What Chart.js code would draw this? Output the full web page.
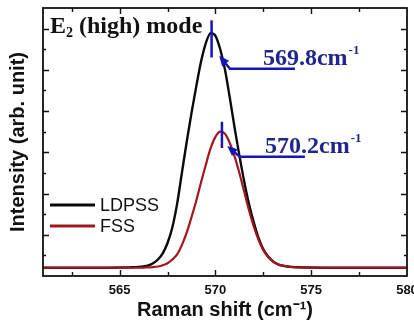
<!DOCTYPE html>
<html><head><meta charset="utf-8">
<script src="https://cdn.jsdelivr.net/npm/chart.js@4/dist/chart.umd.min.js"></script>
<style>html,body{margin:0;padding:0;background:#fff}#wrap{width:414px;height:326px}</style>
</head><body><div id="wrap"><canvas id="c" width="414" height="326"></canvas></div>
<script>
// ---- data ----
const ramanShift = [561,562,563,564,565,565.5,566,566.25,566.5,566.75,567,567.25,567.5,567.75,568,568.25,568.5,568.75,569,569.25,569.5,569.75,570,570.25,570.5,570.75,571,571.25,571.5,571.75,572,572.25,572.5,572.75,573,573.25,573.5,574,574.5,575,576,577,578,579,580];
const ldpss = [0.4,0.4,0.4,0.4,0.41,0.42,0.44,0.47,0.52,0.62,0.8,1.1,1.6,2.35,3.5,5.0,6.5,7.9,9.2,10.4,11.3,11.78,11.65,11.0,10.0,8.65,7.2,5.85,4.6,3.5,2.6,1.85,1.3,0.95,0.72,0.58,0.5,0.44,0.42,0.41,0.4,0.4,0.4,0.4,0.4];
const fss = [0.4,0.4,0.4,0.4,0.4,0.4,0.4,0.41,0.42,0.43,0.46,0.52,0.62,0.8,1.05,1.5,2.1,2.85,3.65,4.55,5.4,6.2,6.75,7.0,6.9,6.45,5.8,5.0,4.1,3.2,2.4,1.75,1.25,0.92,0.7,0.57,0.5,0.43,0.41,0.4,0.4,0.4,0.4,0.4,0.4];
const seriesLabels = ['LDPSS','FSS'];
const xMajorTicks = [565,570,575,580];
const xMinorTicks = [562.5,567.5,572.5,577.5];
const yMajorTicks = [2,4,6,8,10,12];
const yMinorTicks = [1,3,5,7,9,11];
const peakTexts = ['569.8cm','570.2cm'];
const peakX = [569.8,570.34];

// annotation geometry (data units)
const ann = [
  {tick:[569.8,10.6,12.4], tip:[570.2,10.68], from:[570.76,10.05], to:[574.15,10.05], text:[572.48,10.24]},
  {tick:[570.34,6.21,7.48], tip:[570.62,6.3], from:[571.28,5.78], to:[574.67,5.78], text:[572.59,5.97]}
];

const colors = ['#0a0a0a','#a3161c'];

const framePlugin = {
  id:'frame',
  afterDatasetsDraw(chart){
    const {ctx, chartArea:a, scales:{x,y}} = chart;
    ctx.save();
    ctx.strokeStyle='#111'; ctx.lineWidth=1.8;
    ctx.strokeRect(a.left, a.top, a.right-a.left, a.bottom-a.top);
    ctx.lineWidth=1.4;
    ctx.beginPath();
    const xt=(arr,len)=>arr.forEach(v=>{const p=Math.round(x.getPixelForValue(v))+0.5;
      ctx.moveTo(p,a.bottom); ctx.lineTo(p,a.bottom-len); ctx.moveTo(p,a.top); ctx.lineTo(p,a.top+len);});
    const yt=(arr,len)=>arr.forEach(v=>{const p=Math.round(y.getPixelForValue(v))+0.5;
      ctx.moveTo(a.left,p); ctx.lineTo(a.left+len,p); ctx.moveTo(a.right,p); ctx.lineTo(a.right-len,p);});
    xt(xMajorTicks.slice(0,3),6); xt(xMinorTicks,4);
    yt(yMajorTicks,6); yt(yMinorTicks,3);
    ctx.stroke();

    // title
    ctx.fillStyle='#111'; ctx.textBaseline='alphabetic'; ctx.textAlign='left';
    let tx=a.left+7, ty=a.top+25;
    ctx.font='bold 24px "Liberation Serif"';
    ctx.fillText('E',tx,ty); tx+=ctx.measureText('E').width;
    ctx.font='bold 14px "Liberation Serif"';
    ctx.fillText('2',tx,ty+4); tx+=ctx.measureText('2').width;
    ctx.font='bold 24px "Liberation Serif"';
    ctx.fillText(' (high) mode',tx,ty);

    // legend
    chart.data.datasets.forEach((ds,i)=>{
      const ly=a.top+197+i*21;
      ctx.strokeStyle=ds.borderColor; ctx.lineWidth=3;
      ctx.beginPath(); ctx.moveTo(a.left+7,ly); ctx.lineTo(a.left+52,ly); ctx.stroke();
      ctx.fillStyle='#111'; ctx.font='18px "Liberation Sans"'; ctx.textBaseline='middle';
      ctx.fillText(ds.label,a.left+57,ly+1);
    });

    // peak annotations
    ann.forEach((an,i)=>{
      const P=(xx,yy)=>[x.getPixelForValue(xx),y.getPixelForValue(yy)];
      ctx.strokeStyle='#1515b8'; ctx.fillStyle='#1515b8'; ctx.lineWidth=2.5;
      const t0=P(an.tick[0],an.tick[1]), t1=P(an.tick[0],an.tick[2]);
      ctx.beginPath(); ctx.moveTo(t0[0],t0[1]); ctx.lineTo(t1[0],t1[1]); ctx.stroke();
      const f=P(...an.from), e=P(...an.to), tp=P(...an.tip);
      ctx.beginPath(); ctx.moveTo(e[0],e[1]); ctx.lineTo(f[0],f[1]);
      const ang=Math.atan2(tp[1]-f[1],tp[0]-f[0]);
      const bx=tp[0]-7*Math.cos(ang), by=tp[1]-7*Math.sin(ang);
      ctx.lineTo(bx,by); ctx.stroke();
      ctx.beginPath();
      ctx.moveTo(tp[0],tp[1]);
      ctx.lineTo(tp[0]-10*Math.cos(ang)+4.5*Math.sin(ang), tp[1]-10*Math.sin(ang)-4.5*Math.cos(ang));
      ctx.lineTo(tp[0]-10*Math.cos(ang)-4.5*Math.sin(ang), tp[1]-10*Math.sin(ang)+4.5*Math.cos(ang));
      ctx.closePath(); ctx.fill();
      const tt=P(...an.text);
      ctx.fillStyle='#1f268c'; ctx.textBaseline='alphabetic';
      ctx.font='bold 24px "Liberation Serif"';
      ctx.fillText(peakTexts[i],tt[0],tt[1]);
      const w=ctx.measureText(peakTexts[i]).width;
      ctx.font='bold 13px "Liberation Serif"';
      ctx.fillText('-1',tt[0]+w+1,tt[1]-11);
    });
    ctx.restore();
  }
};

const toPts=(ys)=>ramanShift.map((v,i)=>({x:v,y:ys[i]}));

new Chart(document.getElementById('c'),{
  type:'line',
  data:{datasets:[
    {label:seriesLabels[0],data:toPts(ldpss),borderColor:colors[0],borderWidth:2.4,pointRadius:0,tension:0.4,cubicInterpolationMode:'monotone',order:1},
    {label:seriesLabels[1],data:toPts(fss),borderColor:colors[1],borderWidth:2.2,pointRadius:0,tension:0.4,cubicInterpolationMode:'monotone',order:0}
  ]},
  options:{
    responsive:false,animation:false,devicePixelRatio:1,
    layout:{padding:{left:0,right:7,top:8,bottom:0}},
    plugins:{legend:{display:false},tooltip:{enabled:false}},
    scales:{
      x:{type:'linear',min:561,max:580,
        grid:{display:false,drawTicks:false},border:{display:false},
        afterBuildTicks:(s)=>{s.ticks=xMajorTicks.map(v=>({value:v}));},
        afterFit:(s)=>{s.height=50; s.paddingRight=0; s.paddingLeft=0;},
        ticks:{padding:7,color:'#111',font:{family:'"Liberation Sans"',size:13,weight:'bold'},maxRotation:0},
        title:{display:true,text:'Raman shift (cm\u207B\u00B9)',color:'#111',font:{family:'"Liberation Sans"',size:20,weight:'bold'},padding:{top:0,bottom:4}}
      },
      y:{min:0,max:13,
        grid:{display:false,drawTicks:false},border:{display:false},
        ticks:{display:false},
        afterFit:(s)=>{s.width=43; s.paddingTop=0; s.paddingBottom=0;},
        title:{display:true,text:'Intensity (arb. unit)',color:'#111',font:{family:'"Liberation Sans"',size:20,weight:'bold'},padding:{top:6,bottom:0}}
      }
    }
  },
  plugins:[framePlugin]
});
</script></body></html>
